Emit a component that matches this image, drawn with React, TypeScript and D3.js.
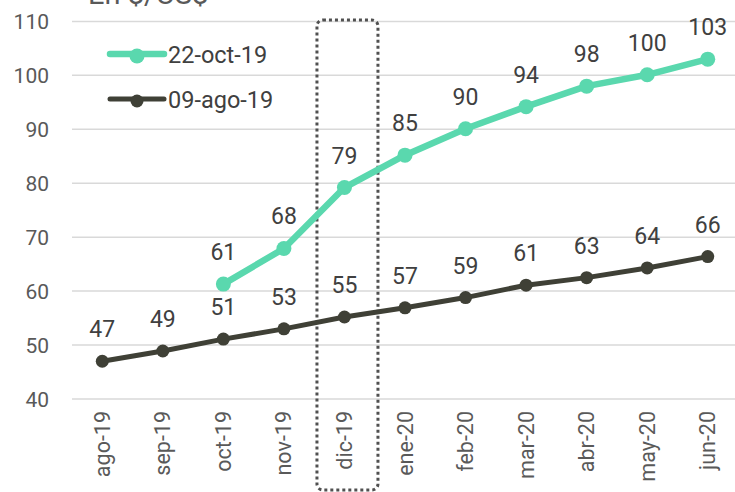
import React, { useRef, useEffect } from "react";
import * as d3 from "d3";

const months = ["ago-19", "sep-19", "oct-19", "nov-19", "dic-19", "ene-20", "feb-20", "mar-20", "abr-20", "may-20", "jun-20"];
const oct22 = [null, null, 61.3, 67.9, 79.2, 85.2, 90.1, 94.2, 98.0, 100.1, 103.0];
const ago09 = [47.0, 48.9, 51.1, 53.0, 55.2, 56.9, 58.8, 61.1, 62.5, 64.3, 66.4];
const yTicks = [40, 50, 60, 70, 80, 90, 100, 110];
const seriesNames = ["22-oct-19", "09-ago-19"];

const GREEN = "#5AD8AE";
const DARK = "#3F4036";
const FONT = "Roboto, 'Noto Sans', sans-serif";

const App = () => {
    const svgRef = useRef(null);

    useEffect(() => {
        const svg = d3.select(svgRef.current);
        svg.selectAll("*").remove();

        const width = 735;
        const height = 492;

        const x = d3.scaleBand().domain(months).range([72, 738]).padding(0);
        const y = d3.scaleLinear().domain([40, 110]).range([399, 21.4]);
        const cx = (m) => x(m) + x.bandwidth() / 2;

        svg.attr("width", width).attr("height", height);

        // title, cut at top
        svg.append("text")
            .attr("x", 88).attr("y", 4)
            .attr("font-family", FONT).attr("font-size", 29)
            .attr("fill", "#595959")
            .text("En $/US$");

        // gridlines
        svg.append("g").selectAll("line")
            .data(yTicks).enter().append("line")
            .attr("x1", 72).attr("x2", 738)
            .attr("y1", d => y(d)).attr("y2", d => y(d))
            .attr("stroke", "#D9D9D9").attr("stroke-width", 1.5);

        // y labels
        svg.append("g").selectAll("text")
            .data(yTicks).enter().append("text")
            .attr("x", 49).attr("y", d => y(d) + 7.5)
            .attr("text-anchor", "end")
            .attr("font-family", FONT).attr("font-size", 21)
            .attr("fill", "#595959")
            .text(d => d);

        // x labels (rotated)
        svg.append("g").selectAll("text")
            .data(months).enter().append("text")
            .attr("transform", d => `translate(${cx(d) + 7.5},${411}) rotate(-90)`)
            .attr("text-anchor", "end")
            .attr("font-family", FONT).attr("font-size", 21.5)
            .attr("fill", "#595959")
            .text(d => d);

        // highlight box around dic-19
        const bx = cx("dic-19") - 27.5;
        svg.append("rect")
            .attr("x", bx).attr("y", 20)
            .attr("width", 61).attr("height", 470)
            .attr("rx", 6).attr("ry", 6)
            .attr("fill", "none")
            .attr("stroke", "#505050").attr("stroke-width", 3)
            .attr("stroke-dasharray", "3,3");

        const series = [
            { name: seriesNames[1], values: ago09, color: DARK, lw: 5, r: 6.5 },
            { name: seriesNames[0], values: oct22, color: GREEN, lw: 6.5, r: 7.5 },
        ];

        series.forEach(s => {
            const pts = months.map((m, i) => ({ m, v: s.values[i] })).filter(p => p.v != null);
            const line = d3.line().x(p => cx(p.m)).y(p => y(p.v));
            svg.append("path")
                .datum(pts)
                .attr("d", line)
                .attr("fill", "none")
                .attr("stroke", s.color)
                .attr("stroke-width", s.lw)
                .attr("stroke-linejoin", "round");
            svg.append("g").selectAll("circle")
                .data(pts).enter().append("circle")
                .attr("cx", p => cx(p.m)).attr("cy", p => y(p.v))
                .attr("r", s.r).attr("fill", s.color);
            svg.append("g").selectAll("text")
                .data(pts).enter().append("text")
                .attr("x", p => cx(p.m)).attr("y", p => y(p.v) - 24)
                .attr("text-anchor", "middle")
                .attr("font-family", FONT).attr("font-size", 23)
                .attr("fill", "#404040")
                .text(p => Math.round(p.v));
        });

        // legend
        const legend = [
            { name: seriesNames[0], color: GREEN, lw: 6.5, r: 7.5, y: 54 },
            { name: seriesNames[1], color: DARK, lw: 5, r: 6.5, y: 99 },
        ];
        const lg = svg.append("g").selectAll("g").data(legend).enter().append("g");
        lg.append("line")
            .attr("x1", 110).attr("x2", 164)
            .attr("y1", d => d.y).attr("y2", d => d.y)
            .attr("stroke", d => d.color).attr("stroke-width", d => d.lw)
            .attr("stroke-linecap", "round");
        lg.append("circle")
            .attr("cx", 137).attr("cy", d => d.y + 2).attr("r", d => d.r)
            .attr("fill", d => d.color);
        lg.append("text")
            .attr("x", 168).attr("y", d => d.y + 8.5)
            .attr("font-family", FONT).attr("font-size", 23.5)
            .attr("fill", "#404040")
            .text(d => d.name);
    }, []);

    return (
        <div style={{ position: "absolute", left: 0, top: 0 }}>
            <svg ref={svgRef}></svg>
        </div>
    );
};

export default App;
